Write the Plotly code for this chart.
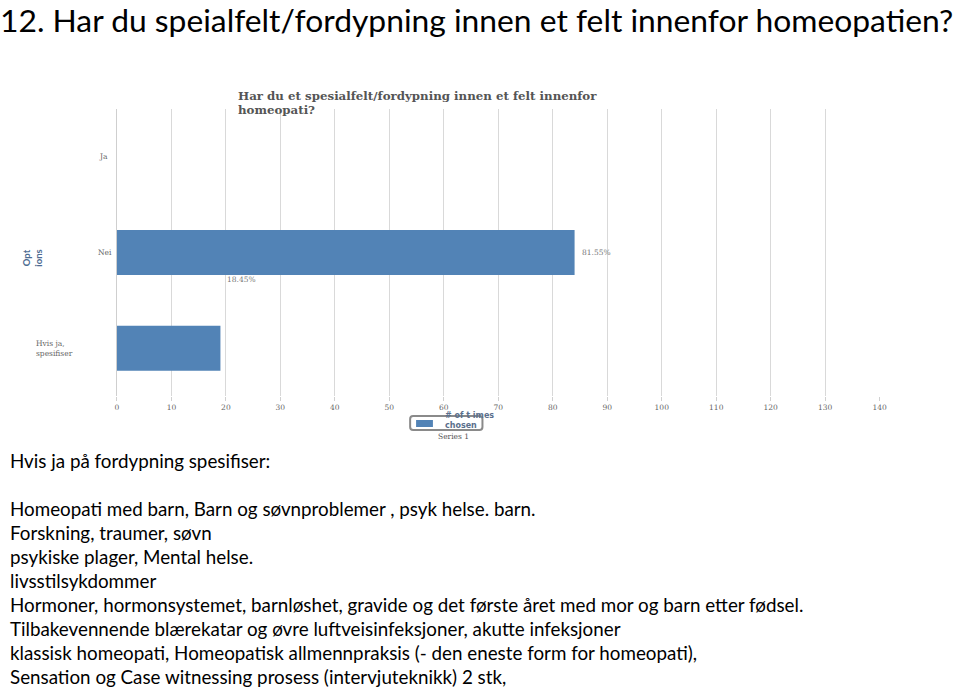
import plotly.graph_objects as go

W, H = 960, 688

# ---- data ----
categories = ["Ja", "Nei", "Hvis ja, spesifiser"]
category_labels = ["Ja", "Nei", "Hvis ja,<br>spesifiser"]
values = [0, 84, 19]
series_name = "Series 1"
x_ticks = list(range(0, 141, 10))

page_title = "12. Har du speialfelt/fordypning innen et felt innenfor homeopatien?"
chart_title_lines = ["Har du et spesialfelt/fordypning innen et felt innenfor", "homeopati?"]
legend_title_lines = ["# of t imes", "chosen"]
text_header = "Hvis ja på fordypning spesifiser:"
text_lines = [
    "Homeopati med barn, Barn og søvnproblemer , psyk helse. barn.",
    "Forskning, traumer, søvn",
    "psykiske plager, Mental helse.",
    "livsstilsykdommer",
    "Hormoner, hormonsystemet, barnløshet, gravide og det første året med mor og barn etter fødsel.",
    "Tilbakevennende blærekatar og øvre luftveisinfeksjoner, akutte infeksjoner",
    "klassisk homeopati, Homeopatisk allmennpraksis (- den eneste form for homeopati),",
    "Sensation og Case witnessing prosess (intervjuteknikk) 2 stk,",
]

total = sum(values)
pct = [f"{v / total * 100:.2f}%" for v in values]


def px(x):
    return x / W


def py(y):
    return 1 - y / H


BAR = "#5283b6"
SERIF = "DejaVu Serif"
SANS = "Lato"

fig = go.Figure()
fig.add_trace(go.Bar(
    y=categories, x=values, orientation="h",
    marker=dict(color=BAR, line=dict(width=0)),
    width=0.47, name=series_name, showlegend=False,
))

fig.update_layout(
    width=W, height=H,
    margin=dict(l=0, r=0, t=0, b=0),
    paper_bgcolor="white", plot_bgcolor="white",
    xaxis=dict(
        domain=[px(116), px(886)], range=[0, 140],
        tickvals=x_ticks, showgrid=True, gridcolor="#d9d9d9", gridwidth=1,
        zeroline=True, zerolinecolor="#cfcfcf", zerolinewidth=1,
        ticks="outside", ticklen=4, tickcolor="#d0d0d0",
        tickfont=dict(family=SERIF, size=7.5, color="#666"),
        showline=False, fixedrange=True,
    ),
    yaxis=dict(
        domain=[py(396), py(109)], type="category",
        categoryarray=categories, autorange="reversed",
        showticklabels=False, showgrid=False, zeroline=False, showline=False,
        fixedrange=True,
    ),
)

ann = []
# page title
ann.append(dict(xref="paper", yref="paper", x=px(-3), y=1, xanchor="left", yanchor="top",
                text=page_title, showarrow=False, borderpad=0,
                font=dict(family=SANS, size=31.8, color="#000")))
# chart title
for i, t in enumerate(chart_title_lines):
    ann.append(dict(xref="paper", yref="paper", x=px(237), y=py(96.5 + 13 * i), xanchor="left",
                    yanchor="middle", text="<b>" + t + "</b>", showarrow=False, borderpad=0,
                    font=dict(family=SERIF, size=11.8, color="#555")))
# category labels
cat_pos = [(px(109), "right", "right"), (px(113), "right", "right"), (px(32), "left", "left")]
for c, lab, (xx, xa, al) in zip(categories, category_labels, cat_pos):
    ann.append(dict(xref="paper", yref="y", x=xx, y=c, xanchor=xa, yanchor="middle", align=al,
                    text=lab, showarrow=False, font=dict(family=SERIF, size=7.5, color="#666")))
# axis title
ann.append(dict(xref="paper", yref="paper", x=px(30), y=py(258), xanchor="center", yanchor="middle",
                text="<b>Opt<br>ions</b>", textangle=-90, showarrow=False,
                font=dict(family=SANS, size=9.5, color="#4d6b91")))
# data labels
ann.append(dict(xref="x", yref="y", x=values[1], y=categories[1], xanchor="left", yanchor="middle",
                xshift=5, text=pct[1], showarrow=False,
                font=dict(family=SERIF, size=7.5, color="#777")))
ann.append(dict(xref="x", yref="y", x=values[2], y=categories[1], xanchor="left", yanchor="middle",
                xshift=5, yshift=-27, text=pct[2], showarrow=False,
                font=dict(family=SERIF, size=7.5, color="#777")))
# legend texts
for i, t in enumerate(legend_title_lines):
    ann.append(dict(xref="paper", yref="paper", x=px(446), y=py(415 + 10.5 * i), xanchor="left",
                    yanchor="middle", text="<b>" + t + "</b>", showarrow=False, borderpad=0,
                    font=dict(family="DejaVu Sans", size=8, color="#5a6f8c")))
ann.append(dict(xref="paper", yref="paper", x=px(456), y=py(436.5), xanchor="center", yanchor="middle",
                text=series_name, showarrow=False, borderpad=0,
                font=dict(family=SERIF, size=7.5, color="#555")))
# text block
ann.append(dict(xref="paper", yref="paper", x=px(6), y=py(460), xanchor="left", yanchor="middle",
                text=text_header, showarrow=False, font=dict(family=SANS, size=18.8, color="#000")))
for i, line in enumerate(text_lines):
    ann.append(dict(xref="paper", yref="paper", x=px(6), y=py(508 + 24 * i), xanchor="left",
                    yanchor="middle", text=line, showarrow=False,
                    font=dict(family=SANS, size=18.8, color="#000")))
fig.update_layout(annotations=ann)

# legend box (rounded) and swatch
x0, x1, y0, y1, r = px(412), px(485), py(416), py(430), 3
rx, ry = r / W, r / H
path = (f"M {x0+rx},{y0} L {x1-rx},{y0} Q {x1},{y0} {x1},{y0-ry} L {x1},{y1+ry} "
        f"Q {x1},{y1} {x1-rx},{y1} L {x0+rx},{y1} Q {x0},{y1} {x0},{y1+ry} "
        f"L {x0},{y0-ry} Q {x0},{y0} {x0+rx},{y0} Z")
fig.add_shape(type="path", xref="paper", yref="paper", path=path,
              line=dict(color="#8a8a8a", width=2), fillcolor="rgba(0,0,0,0)")
fig.add_shape(type="rect", xref="paper", yref="paper", x0=px(418), x1=px(435), y0=py(420), y1=py(427),
              line=dict(width=0), fillcolor=BAR)

fig.write_html("out.html")
